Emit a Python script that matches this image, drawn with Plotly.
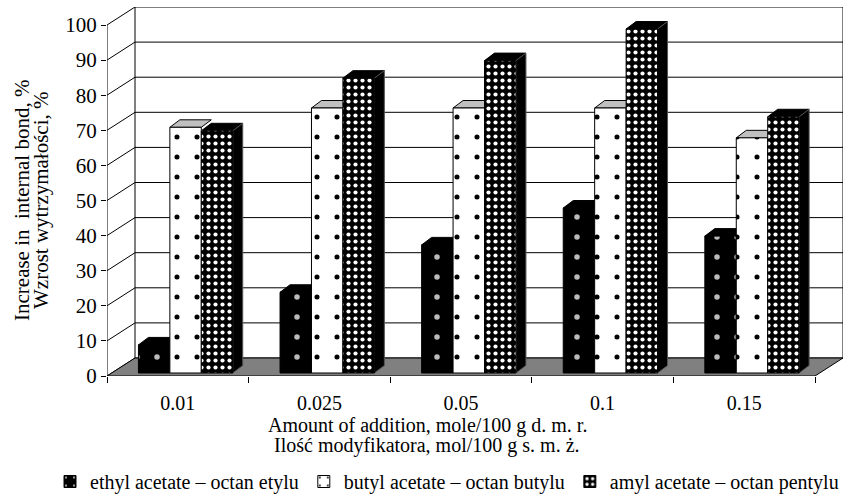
import plotly.graph_objects as go

# ---------------- data ----------------
categories = ["0.01", "0.025", "0.05", "0.1", "0.15"]
series_names = ["ethyl acetate – octan etylu",
                "butyl acetate – octan butylu",
                "amyl acetate – octan pentylu"]
ethyl = [8, 23, 36.5, 47, 39]
butyl = [70, 75.5, 75.5, 75.5, 67]
amyl = [69, 84, 89, 98, 73]
y_ticks = [0, 10, 20, 30, 40, 50, 60, 70, 80, 90, 100]

# ---------------- geometry (pixel scales of the pseudo-3D frame) ----------------
W, H = 849, 496
L, R, T, B = 107, 6, 7, 120
CW = 141.6          # px per category
VS = 3.51           # px per value unit
plot_w = W - L - R
plot_h = H - T - B
WALL_DX = 28 / CW   # depth offset of back wall (x units)
WALL_DY = 18 / VS   # depth offset of back wall (y units)
BAR_DX = 10 / CW    # depth of bars
BAR_DY = 7.5 / VS
BASE = 3 / VS       # bars stand a little behind the front edge
BAR_OFF = 0.222
BAR_W = 0.222
FONT = "Liberation Serif"
n = len(categories)

series = [ethyl, butyl, amyl]
front_col = ["#000000", "#ffffff", "#000000"]
top_col = ["#000000", "#c0c0c0", "#000000"]
patterns = [
    dict(shape=".", bgcolor="#000000", fgcolor="#bbbbbb", size=20, solidity=0.06, fillmode="replace"),
    dict(shape=".", bgcolor="#ffffff", fgcolor="#000000", size=20, solidity=0.05, fillmode="replace"),
    dict(shape=".", bgcolor="#000000", fgcolor="#ffffff", size=7, solidity=0.28, fillmode="replace"),
]

fig = go.Figure()
for k, vals in enumerate(series):
    xs = [i + BAR_OFF + (k + 0.5) * BAR_W for i in range(n)]
    fig.add_trace(go.Bar(
        x=xs, y=vals, base=[BASE] * n, width=BAR_W, name=series_names[k],
        marker=dict(color=front_col[k], pattern=patterns[k],
                    line=dict(color="black", width=1)),
        hoverinfo="skip",
    ))

shapes = []
line_k = dict(color="black", width=1)
# left side wall gridlines and back wall gridlines
for v in y_ticks:
    shapes.append(dict(type="line", xref="x", yref="y", x0=0, y0=v, x1=WALL_DX, y1=v + WALL_DY,
                       line=line_k, layer="below"))
    shapes.append(dict(type="line", xref="x", yref="y", x0=WALL_DX, y0=v + WALL_DY,
                       x1=n + WALL_DX, y1=v + WALL_DY, line=line_k, layer="below"))
# wall edges
shapes.append(dict(type="line", xref="x", yref="y", x0=WALL_DX, y0=WALL_DY, x1=WALL_DX,
                   y1=y_ticks[-1] + WALL_DY, line=line_k, layer="below"))
shapes.append(dict(type="line", xref="x", yref="y", x0=n + WALL_DX, y0=WALL_DY, x1=n + WALL_DX,
                   y1=y_ticks[-1] + WALL_DY, line=line_k, layer="below"))
shapes.append(dict(type="line", xref="x", yref="y", x0=0, y0=0, x1=0, y1=y_ticks[-1],
                   line=line_k, layer="below"))
# floor
shapes.append(dict(type="path", xref="x", yref="y",
                   path=f"M 0,0 L {n},0 L {n + WALL_DX},{WALL_DY} L {WALL_DX},{WALL_DY} Z",
                   fillcolor="#808080", line=line_k, layer="below"))

# bar top and side faces
for i in range(n):
    order = sorted(range(3), key=lambda k: series[k][i])
    for k in order:
        x0 = i + BAR_OFF + k * BAR_W
        x1 = x0 + BAR_W
        yt = BASE + series[k][i]
        shapes.append(dict(type="path", xref="x", yref="y",
                           path=f"M {x0},{yt} L {x0 + BAR_DX},{yt + BAR_DY} L {x1 + BAR_DX},{yt + BAR_DY} L {x1},{yt} Z",
                           fillcolor=top_col[k], line=line_k, layer="below"))
    k = 2
    x1 = i + BAR_OFF + 3 * BAR_W
    yt = BASE + series[k][i]
    shapes.append(dict(type="path", xref="x", yref="y",
                       path=f"M {x1},{BASE} L {x1 + BAR_DX},{BASE + BAR_DY} L {x1 + BAR_DX},{yt + BAR_DY} L {x1},{yt} Z",
                       fillcolor="#000000", line=dict(color="#555555", width=1), layer="below"))

def py(pix):
    return (H - B - pix) / plot_h

def px(pix):
    return (pix - L) / plot_w

annotations = [
    dict(text="Increase in  internal bond, %", textangle=-90,
         xref="paper", yref="paper", x=px(22), y=py(201), xanchor="center", yanchor="middle",
         showarrow=False, font=dict(family=FONT, size=21, color="black")),
    dict(text="Wzrost wytrzymałości, %", textangle=-90,
         xref="paper", yref="paper", x=px(41), y=py(200), xanchor="center", yanchor="middle",
         showarrow=False, font=dict(family=FONT, size=21, color="black")),
    dict(text="Amount of addition, mole/100 g d. m. r.", xref="paper", yref="paper",
         x=px(427), y=py(425), xanchor="center", yanchor="middle", showarrow=False,
         font=dict(family=FONT, size=20, color="black")),
    dict(text="Ilość modyfikatora, mol/100 g s. m. ż.", xref="paper", yref="paper",
         x=px(427), y=py(446), xanchor="center", yanchor="middle", showarrow=False,
         font=dict(family=FONT, size=20, color="black")),
]

fig.update_layout(
    width=W, height=H,
    margin=dict(l=L, r=R, t=T, b=B, pad=0, autoexpand=False),
    paper_bgcolor="white", plot_bgcolor="white",
    barmode="overlay",
    shapes=shapes, annotations=annotations,
    showlegend=True,
    legend=dict(orientation="h", x=px(50), xanchor="left", y=py(462), yanchor="top",
                font=dict(family=FONT, size=20, color="black"), itemwidth=30,
                bgcolor="rgba(0,0,0,0)", traceorder="normal"),
    xaxis=dict(range=[0, plot_w / CW], tickmode="array",
               tickvals=[i + 0.5 for i in range(n)], ticktext=categories,
               ticks="", showgrid=False, zeroline=False, showline=False,
               ticklabelstandoff=13,
               tickfont=dict(family=FONT, size=20, color="black"),
               minor=dict(tickmode="array", tickvals=list(range(n + 1)), ticks="outside",
                          ticklen=6, tickcolor="black", tickwidth=1, showgrid=False)),
    yaxis=dict(range=[0, plot_h / VS], tickmode="array", tickvals=y_ticks,
               ticktext=[str(v) for v in y_ticks], ticks="outside", ticklen=5,
               tickcolor="black", showgrid=False, zeroline=False, showline=False,
               tickfont=dict(family=FONT, size=21, color="black")),
)

fig.write_html("out.html")
